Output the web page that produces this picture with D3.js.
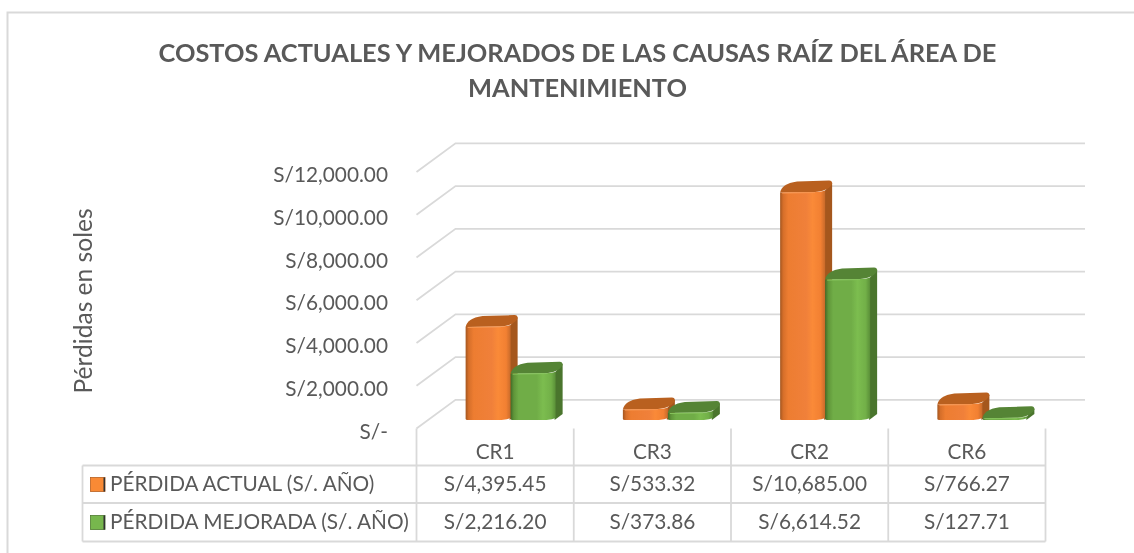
<!DOCTYPE html>
<html><head><meta charset="utf-8">
<script src="https://cdn.jsdelivr.net/npm/d3@7"></script>
<style>html,body{margin:0;padding:0;background:#fff}svg{display:block;filter:blur(0.35px)}text{font-family:Lato,"Open Sans",sans-serif;fill:#595959}</style>
</head><body><svg id="c" width="1134" height="553"></svg>
<script>
const titleLines = ["COSTOS ACTUALES Y MEJORADOS DE LAS CAUSAS RAÍZ DEL ÁREA DE", "MANTENIMIENTO"];
const axisTitle = "Pérdidas en soles";
const categories = ["CR1", "CR3", "CR2", "CR6"];
const seriesNames = ["PÉRDIDA ACTUAL (S/. AÑO)", "PÉRDIDA MEJORADA (S/. AÑO)"];
const perdidaActual = [4395.45, 533.32, 10685.00, 766.27];
const perdidaMejorada = [2216.20, 373.86, 6614.52, 127.71];
const yTicks = [0, 2000, 4000, 6000, 8000, 10000, 12000];

const svg = d3.select("#c");
const money = v => v === 0 ? "S/-" : "S/" + d3.format(",.2f")(v);
const GRID = "#d9d9d9";

// frame
svg.append("path").attr("d", "M7.5,553V12.5H1134").attr("fill", "none").attr("stroke", GRID).attr("stroke-width", 2);

// title
svg.selectAll("text.title").data(titleLines).join("text").attr("class", "title")
  .attr("x", 577.5).attr("y", (d, i) => 62 + i * 35).attr("text-anchor", "middle")
  .attr("font-size", 25.4).attr("font-weight", 700).text(d => d);

// scales
const y = d3.scaleLinear().domain([0, 12000]).range([428.5, 172]);
const x = d3.scaleBand().domain(categories).range([416.5, 1045.5]);
const depthX = 39, depthY = -28.7, right = 1085;

// gridlines
svg.append("g").selectAll("path").data(yTicks).join("path")
  .attr("d", d => `M416.5,${y(d)}L${416.5 + depthX},${y(d) + depthY}H${right}`)
  .attr("fill", "none").attr("stroke", GRID).attr("stroke-width", 1.8);

// y axis labels
const ax = svg.append("g").attr("transform", "translate(388,3)")
  .call(d3.axisLeft(y).tickValues(yTicks).tickFormat(money).tickSize(0).tickPadding(0));
ax.select(".domain").remove();
ax.selectAll("text").attr("font-size", 20.8).style("font-family", "Lato").style("fill", "#595959");

svg.append("text").attr("transform", "translate(92,301) rotate(-90)").attr("text-anchor", "middle")
  .attr("font-size", 24.6).text(axisTitle);

// gradients
const defs = svg.append("defs");
function grad(id, stops) {
  const g = defs.append("linearGradient").attr("id", id);
  stops.forEach(s => g.append("stop").attr("offset", s[0]).attr("stop-color", s[1]));
}
grad("gO", [[0, "#a4561f"], [0.07, "#d66f2a"], [0.18, "#ed7d31"], [0.58, "#f0803a"], [0.72, "#fa8a38"], [0.9, "#f28032"], [1, "#c86a2a"]]);
grad("gG", [[0, "#426b28"], [0.07, "#5f9539"], [0.18, "#70ad47"], [0.58, "#70ad47"], [0.72, "#7cbd4f"], [0.9, "#72b048"], [1, "#5a8f38"]]);

// bars
const barW = 45, baseY = -8.5, dx = 7, dy = -10;
const groups = [
  {values: perdidaActual, front: "url(#gO)", top: "#b9601f", side: "#a5571d", rim: "#f79650"},
  {values: perdidaMejorada, front: "url(#gG)", top: "#558435", side: "#4a752d", rim: "#86c45c"}
];
groups.forEach((s, si) => {
  const g = svg.append("g");
  categories.forEach((c, i) => {
    const x0 = x(c) + x.bandwidth() / 2 - 29 + si * barW - 0.5;
    const yb = y(0) + baseY, yt = y(s.values[i]) + baseY, x1 = x0 + barW;
    const xb = x1 + dx;
    // side
    g.append("path").attr("fill", s.side)
      .attr("d", `M${x1 - 1},${yt}L${xb},${yt + dy + 1}L${xb},${Math.max(yb + dy + 4, yt + dy + 1)}L${x1 - 1},${yb}Z`);
    // top
    g.append("path").attr("fill", s.top)
      .attr("d", `M${x0},${yt + 1}C${x0 + 1},${yt + dy * 0.45} ${x0 + 6},${yt + dy * 0.85} ${x0 + 17},${yt + dy}L${xb - 3},${yt + dy - 1}Q${xb},${yt + dy - 1} ${xb},${yt + dy + 2}C${xb - 2},${yt - 2} ${x1 - 4},${yt} ${x1 - 10},${yt + 0.5}Z`);
    // front
    g.append("path").attr("fill", s.front)
      .attr("d", `M${x0},${yt + 1}L${x0},${yb - 1}Q${x0},${yb} ${x0 + 2},${yb}L${x1 - 9},${yb}Q${x1 - 3},${yb - 0.5} ${x1},${Math.max(yb - 2, yt)}L${x1},${yt - 1}Q${x1 - 3},${yt} ${x1 - 10},${yt + 0.5}Z`);
    // highlight along the front top edge
    g.append("path").attr("fill", "none").attr("stroke", s.rim).attr("stroke-width", 1)
      .attr("d", `M${x0 + 2},${yt + 1.5}L${x1 - 10},${yt + 1}`);
  });
});

// data table
const T = {left: 82.5, mid: 416.5, right: 1045.5, head: 428.5, r0: 465.5, r1: 503, r2: 541.5};
const table = svg.append("g").attr("fill", "none").attr("stroke", GRID).attr("stroke-width", 1.8);
[T.r0, T.r1, T.r2].forEach(v => table.append("line").attr("x1", T.left).attr("x2", T.right).attr("y1", v).attr("y2", v));
table.append("line").attr("x1", T.left).attr("x2", T.left).attr("y1", T.r0).attr("y2", T.r2);
x.domain().forEach(c => {
  table.append("line").attr("x1", x(c)).attr("x2", x(c)).attr("y1", T.head).attr("y2", T.r2);
});
table.append("line").attr("x1", T.right).attr("x2", T.right).attr("y1", T.head).attr("y2", T.r2);

const cx = c => x(c) + x.bandwidth() / 2;
svg.selectAll("text.cat").data(categories).join("text").attr("class", "cat")
  .attr("x", cx).attr("y", 459).attr("text-anchor", "middle").attr("font-size", 20.8).text(d => d);

[perdidaActual, perdidaMejorada].forEach((vals, r) => {
  const ty = [491, 529][r];
  svg.selectAll("text.v" + r).data(vals).join("text").attr("class", "v" + r)
    .attr("x", (d, i) => cx(categories[i])).attr("y", ty).attr("text-anchor", "middle")
    .attr("font-size", 20.8).text(money);
  svg.append("text").attr("x", 110).attr("y", ty).attr("font-size", 20.8).text(seriesNames[r]);
  const keyY = [477.5, 515.5][r];
  svg.append("rect").attr("x", 90.5).attr("y", keyY).attr("width", 14.5).attr("height", 14)
    .attr("fill", ["#f98a35", "#77b74d"][r]).attr("stroke", ["#b9601f", "#4f7a30"][r]).attr("stroke-width", 0.8);
  svg.append("rect").attr("x", 103.5).attr("y", keyY).attr("width", 1.6).attr("height", 14).attr("fill", "#333");
});
</script></body></html>
